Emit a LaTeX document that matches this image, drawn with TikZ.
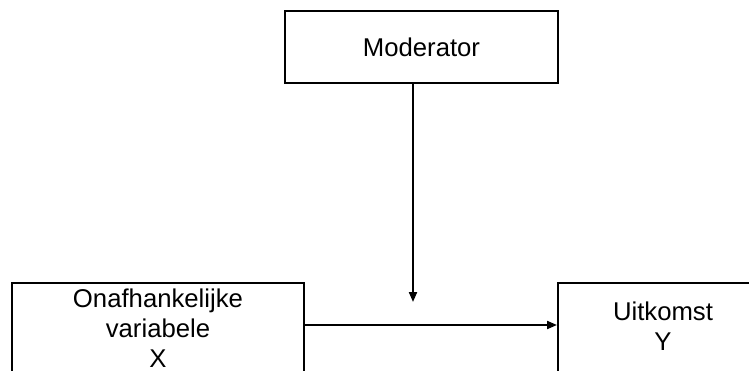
\documentclass[tikz,border=0pt]{standalone}
\usepackage{fontspec}
\setmainfont{Liberation Sans}
\usetikzlibrary{arrows.meta}

\begin{document}
\begin{tikzpicture}[x=1pt, y=1pt,
    blok/.style={draw, line width=2pt, align=center, inner sep=0pt,
        font=\fontsize{25.7}{30}\selectfont},
    pijl/.style={line width=2pt, -{Triangle[length=10pt, width=8pt]}}]
                \useasboundingbox (0,0) rectangle (749,370);
                \node[blok, minimum width=273, minimum height=72] (mod) at (421.5,323) {Moderator};
                % extra empty line lifts the text a little
                \node[blok, minimum width=292, minimum height=102] (xvar) at (158,36) {Onafhankelijke\\variabele\\X\\[-18pt]\mbox{}};
                \node[blok, minimum width=210, minimum height=102, text width=210] (yvar) at (663,36) {Uitkomst\\Y\\[-14pt]\mbox{}};
                \coordinate (meet) at (413,68);
                \coordinate (mid) at (0,45);
                \draw[pijl] (mod.south -| meet) -- (meet);
                \draw[pijl] (xvar.east |- mid) -- (yvar.west |- mid);
            \end{tikzpicture}
\end{document}
